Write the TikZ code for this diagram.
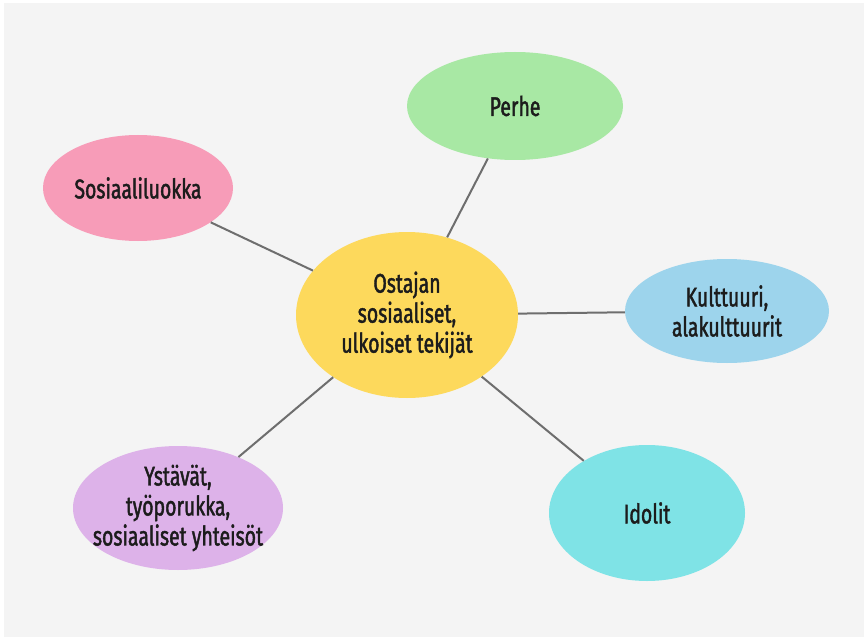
\documentclass[tikz,border=0pt]{standalone}
\usepackage{fontspec}
\setmainfont{Fira Sans}[FakeStretch=0.72,FakeBold=1.6]
\usetikzlibrary{shapes.geometric}
\definecolor{bgc}{HTML}{F4F4F4}
\definecolor{cyel}{HTML}{FDD95C}
\definecolor{cgrn}{HTML}{A8E8A4}
\definecolor{cpnk}{HTML}{F79CB8}
\definecolor{cblu}{HTML}{9DD4EC}
\definecolor{cpur}{HTML}{DDB2E9}
\definecolor{ccya}{HTML}{7FE3E6}
\definecolor{ctxt}{HTML}{1C1C1C}
\definecolor{clin}{HTML}{6E6E6E}
\tikzset{
  bubble/.style={ellipse, inner sep=0pt},
  lbl/.style={inner sep=0pt, align=center, text=ctxt,
    font=\fontsize{27}{30}\selectfont},
  link/.style={draw=clin, line width=2pt}
}
\begin{document}
\begin{tikzpicture}[x=1pt,y=-1pt]
\useasboundingbox (0,0) rectangle (864,639);
\fill[white] (0,0) rectangle (864,639);
\fill[bgc] (4,3) rectangle (864,637);
\node[bubble, fill=cyel, minimum width=222pt, minimum height=166pt] (c) at (407,315) {};
\node[bubble, fill=cgrn, minimum width=216pt, minimum height=108pt] (p) at (515,106) {};
\node[bubble, fill=cpnk, minimum width=190pt, minimum height=106pt] (s) at (138,188) {};
\node[bubble, fill=cblu, minimum width=204pt, minimum height=104pt] (k) at (727,311) {};
\node[bubble, fill=cpur, minimum width=210pt, minimum height=124pt] (y) at (178,508) {};
\node[bubble, fill=ccya, minimum width=196pt, minimum height=136pt] (i) at (647,513) {};
\node[lbl] (ct) at (c) {Ostajan\\sosiaaliset,\\ulkoiset tekijät};
\node[lbl] (pt) at (p) {Perhe};
\node[lbl] (st) at (s) {Sosiaaliluokka};
\node[lbl] (kt) at (k) {Kulttuuri,\\alakulttuurit};
\node[lbl] (yt) at (y) {Ystävät,\\työporukka,\\sosiaaliset yhteisöt};
\node[lbl] (it) at (i) {Idolit};
\draw[link] (c) -- (p);
\draw[link] (c) -- (s);
\draw[link] (c) -- (k);
\draw[link] (c) -- (y);
\draw[link] (c) -- (i);
\end{tikzpicture}
\end{document}
